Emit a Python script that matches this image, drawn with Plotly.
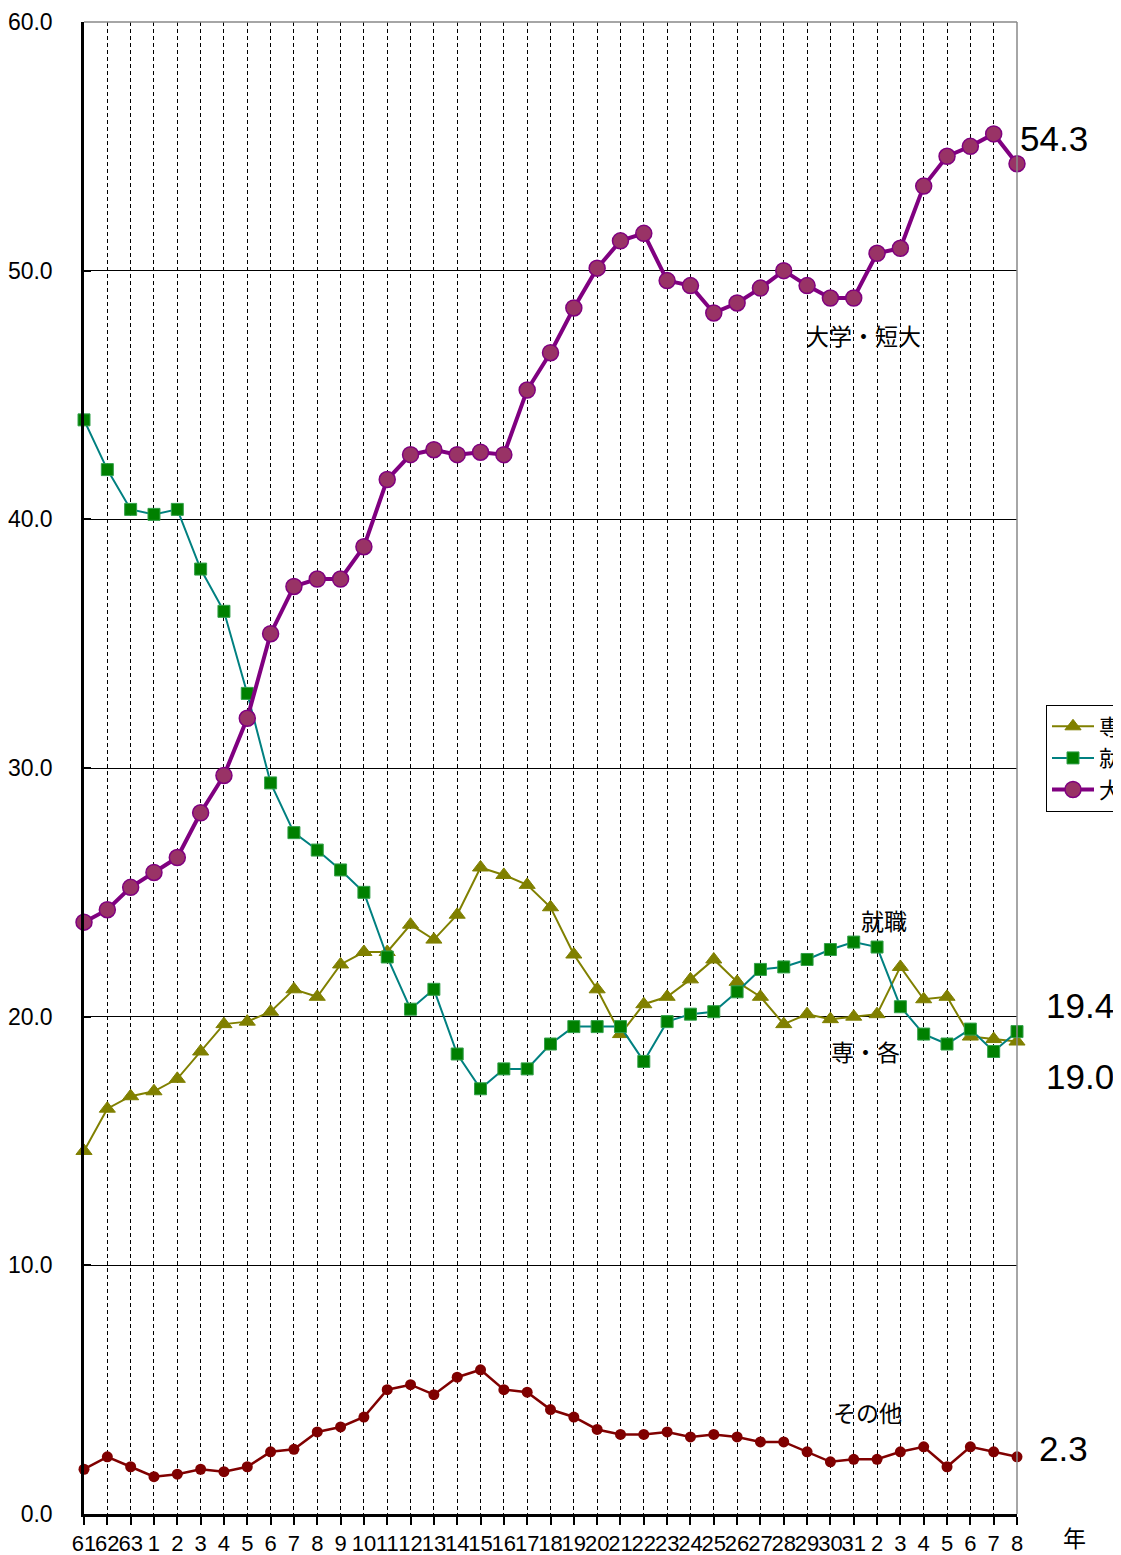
import plotly.graph_objects as go

years = ["61", "62", "63", "1", "2", "3", "4", "5", "6", "7", "8", "9", "10",
         "11", "12", "13", "14", "15", "16", "17", "18", "19", "20", "21", "22",
         "23", "24", "25", "26", "27", "28", "29", "30", "31",
         "2", "3", "4", "5", "6", "7", "8"]

senkaku = [14.6, 16.3, 16.8, 17.0, 17.5, 18.6, 19.7, 19.8, 20.2, 21.1, 20.8,
           22.1, 22.6, 22.6, 23.7, 23.1, 24.1, 26.0, 25.7, 25.3, 24.4, 22.5,
           21.1, 19.3, 20.5, 20.8, 21.5, 22.3, 21.4, 20.8, 19.7, 20.1, 19.9,
           20.0, 20.1, 22.0, 20.7, 20.8, 19.2, 19.1, 19.0]
shushoku = [44.0, 42.0, 40.4, 40.2, 40.4, 38.0, 36.3, 33.0, 29.4, 27.4, 26.7,
            25.9, 25.0, 22.4, 20.3, 21.1, 18.5, 17.1, 17.9, 17.9, 18.9, 19.6,
            19.6, 19.6, 18.2, 19.8, 20.1, 20.2, 21.0, 21.9, 22.0, 22.3, 22.7,
            23.0, 22.8, 20.4, 19.3, 18.9, 19.5, 18.6, 19.4]
daigaku = [23.8, 24.3, 25.2, 25.8, 26.4, 28.2, 29.7, 32.0, 35.4, 37.3, 37.6,
           37.6, 38.9, 41.6, 42.6, 42.8, 42.6, 42.7, 42.6, 45.2, 46.7, 48.5,
           50.1, 51.2, 51.5, 49.6, 49.4, 48.3, 48.7, 49.3, 50.0, 49.4, 48.9,
           48.9, 50.7, 50.9, 53.4, 54.6, 55.0, 55.5, 54.3]
sonota = [1.8, 2.3, 1.9, 1.5, 1.6, 1.8, 1.7, 1.9, 2.5, 2.6, 3.3, 3.5, 3.9,
          5.0, 5.2, 4.8, 5.5, 5.8, 5.0, 4.9, 4.2, 3.9, 3.4, 3.2, 3.2, 3.3,
          3.1, 3.2, 3.1, 2.9, 2.9, 2.5, 2.1, 2.2, 2.2, 2.5, 2.7, 1.9, 2.7,
          2.5, 2.3]

names = ["専・各", "就職", "大学・短大", "その他"]

xs = list(range(len(years)))
last = len(years) - 1

# page has an 8px body margin, so the figure is sized/offset to compensate
W, H = 1113, 1547

fig = go.Figure()
fig.add_trace(go.Scatter(
    x=xs, y=senkaku, name=names[0], mode="lines+markers", cliponaxis=False,
    line=dict(color="#808000", width=2),
    marker=dict(symbol="triangle-up", size=14, color="#808000",
                line=dict(color="#808000", width=1))))
fig.add_trace(go.Scatter(
    x=xs, y=shushoku, name=names[1], mode="lines+markers", cliponaxis=False,
    line=dict(color="#008080", width=2),
    marker=dict(symbol="square", size=12, color="#008000",
                line=dict(color="#33a04a", width=1))))
fig.add_trace(go.Scatter(
    x=xs, y=daigaku, name=names[2], mode="lines+markers", cliponaxis=False,
    line=dict(color="#800080", width=4),
    marker=dict(symbol="circle", size=16, color="#993366",
                line=dict(color="#800080", width=1.5))))
fig.add_trace(go.Scatter(
    x=xs, y=sonota, name=names[3], mode="lines+markers", cliponaxis=False,
    showlegend=False,
    line=dict(color="#800000", width=2.5),
    marker=dict(symbol="circle", size=11, color="#800000")))

big = dict(family="Liberation Sans, Arial, sans-serif", size=35, color="black")
ann = [
    dict(x=last, y=daigaku[-1], text=f"{daigaku[-1]:.1f}", xanchor="left",
         yanchor="middle", xshift=1, yshift=25, font=big),
    dict(x=last, y=shushoku[-1], text=f"{shushoku[-1]:.1f}", xanchor="left",
         yanchor="middle", xshift=27, yshift=26, font=big),
    dict(x=last, y=senkaku[-1], text=f"{senkaku[-1]:.1f}", xanchor="left",
         yanchor="middle", xshift=27, yshift=-35, font=big),
    dict(x=last, y=sonota[-1], text=f"{sonota[-1]:.1f}", xanchor="left",
         yanchor="middle", xshift=20, yshift=8, font=big),
]
lab = dict(family="Noto Sans CJK JP", size=23, color="black")
ann += [
    dict(x=33.4, y=47.4, text=names[2], showarrow=False, font=lab),
    dict(x=34.3, y=23.9, text=names[1], showarrow=False, font=lab),
    dict(x=33.5, y=18.6, text=names[0], showarrow=False, font=lab),
    dict(x=33.6, y=4.1, text=names[3], showarrow=False, font=lab),
    dict(xref="paper", yref="paper", x=1.076, y=-0.028, text="年",
         showarrow=False, font=dict(family="Noto Sans CJK JP", size=23,
                                    color="black")),
]
for a in ann:
    a.setdefault("showarrow", False)

fig.update_layout(
    width=W, height=H,
    margin=dict(l=76, r=104, t=14, b=41, autoexpand=False),
    paper_bgcolor="white", plot_bgcolor="white",
    showlegend=True,
    legend=dict(xref="container", yref="container",
                x=1038 / W, xanchor="left", y=1 - 750 / H,
                yanchor="middle", itemwidth=42,
                bordercolor="black", borderwidth=1, bgcolor="white",
                font=dict(family="Noto Sans CJK JP", size=22, color="black"),
                tracegroupgap=0),
    annotations=ann,
    shapes=[
        dict(type="line", xref="paper", yref="paper", x0=0, x1=1, y0=1, y1=1,
             line=dict(color="#888888", width=1.5)),
        dict(type="line", xref="paper", yref="paper", x0=1, x1=1, y0=0, y1=1,
             line=dict(color="#888888", width=1.5)),
    ],
)
fig.update_xaxes(
    range=[0, last], tickmode="array", tickvals=xs, ticktext=years,
    showgrid=True, gridcolor="black", gridwidth=1, griddash="4px,3px",
    showline=True, linecolor="black", linewidth=2.5,
    ticks="outside", ticklen=8, tickwidth=1.5, tickcolor="black",
    tickangle=0,
    tickfont=dict(family="Liberation Sans Narrow, Liberation Sans, Arial",
                  size=22, color="black"),
    zeroline=False)
fig.update_yaxes(
    range=[0, 60], dtick=10, tick0=0, tickformat=".1f",
    showgrid=True, gridcolor="black", gridwidth=1,
    showline=True, linecolor="black", linewidth=2.5,
    ticks="inside", ticklen=7, tickwidth=1.5, tickcolor="black",
    ticklabelstandoff=24,
    tickfont=dict(family="Liberation Sans, Arial", size=23, color="black"),
    zeroline=False)

fig.write_html("out.html")
